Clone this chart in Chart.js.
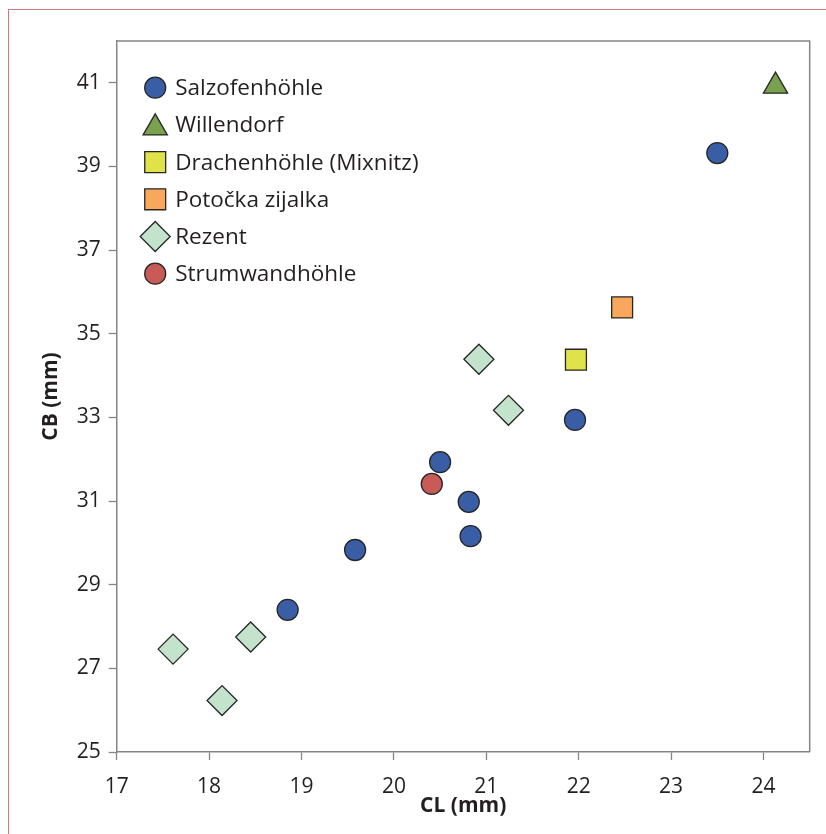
<!DOCTYPE html>
<html>
<head>
<meta charset="utf-8">
<script src="https://cdn.jsdelivr.net/npm/chart.js@4.4.1/dist/chart.umd.min.js"></script>
<style>
  html, body { margin: 0; padding: 0; background: #ffffff; }
  #wrap { position: relative; width: 826px; height: 834px; }
  #frame { position: absolute; left: 8px; top: 9px; right: -10px; bottom: -10px;
           border-left: 1.5px solid #d9767a; border-top: 1.5px solid #d9767a; pointer-events: none; }
</style>
</head>
<body>
<div id="wrap">
  <canvas id="c" width="826" height="834"></canvas>
  <div id="frame"></div>
</div>
<script>
// ---- data ----
const seriesNames = ["Salzofenhöhle", "Willendorf", "Drachenhöhle (Mixnitz)", "Potočka zijalka", "Rezent", "Strumwandhöhle"];

const salzofenX = [23.50, 21.96, 20.50, 20.81, 20.83, 19.58, 18.85];
const salzofenY = [39.32, 32.94, 31.93, 30.98, 30.16, 29.83, 28.40];

const willendorfX = [24.13];
const willendorfY = [40.92];

const drachenX = [21.97];
const drachenY = [34.38];

const potockaX = [22.47];
const potockaY = [35.63];

const rezentX = [20.92, 21.24, 17.61, 18.14, 18.45];
const rezentY = [34.39, 33.17, 27.46, 26.23, 27.75];

const strumX = [20.41];
const strumY = [31.41];

const xTicks = [17, 18, 19, 20, 21, 22, 23, 24];
const yTicks = [25, 27, 29, 31, 33, 35, 37, 39, 41];

const xTitle = "CL (mm)";
const yTitle = "CB (mm)";

// ---- helpers ----
const pts = (xs, ys) => xs.map((x, i) => ({ x: x, y: ys[i] }));
const TEXT = '#231f20';
const AXIS = '#858585';
const BORDER = '#262626';

const styles = [
  { pointStyle: 'circle',   radius: 10.5, bg: '#3a5ea6' },
  { pointStyle: 'triangle', radius: 14,   bg: '#79a24f' },
  { pointStyle: 'rect',     radius: 14.8, bg: '#e0e24a' },
  { pointStyle: 'rect',     radius: 14.8, bg: '#f8a75c' },
  { pointStyle: 'rectRot',  radius: 15,   bg: '#c3e3cc' },
  { pointStyle: 'circle',   radius: 10.5, bg: '#c85b58' }
];
const dataPairs = [
  pts(salzofenX, salzofenY),
  pts(willendorfX, willendorfY),
  pts(drachenX, drachenY),
  pts(potockaX, potockaY),
  pts(rezentX, rezentY),
  pts(strumX, strumY)
];

const datasets = seriesNames.map((name, i) => ({
  label: name,
  data: dataPairs[i],
  pointStyle: styles[i].pointStyle,
  pointRadius: styles[i].radius,
  pointHoverRadius: styles[i].radius,
  backgroundColor: styles[i].bg,
  borderColor: BORDER,
  borderWidth: 1.3,
  showLine: false
}));

// frame (top/right) plugin
const framePlugin = {
  id: 'frame',
  beforeDatasetsDraw(chart) {
    const { ctx, chartArea: a } = chart;
    ctx.save();
    ctx.strokeStyle = AXIS;
    ctx.lineWidth = 1.5;
    ctx.beginPath();
    ctx.moveTo(a.left, a.top);
    ctx.lineTo(a.right, a.top);
    ctx.lineTo(a.right, a.bottom);
    ctx.stroke();
    ctx.restore();
  }
};

// legend inside plot area
const legendPlugin = {
  id: 'innerLegend',
  afterDraw(chart) {
    const { ctx, chartArea: a } = chart;
    const mx = a.left + 38.5;
    const tx = a.left + 58.5;
    const y0 = a.top + 46.7;
    const dy = 37.2;
    ctx.save();
    chart.data.datasets.forEach((ds, i) => {
      const y = y0 + i * dy;
      const r = ds.pointRadius;
      const cy = ds.pointStyle === 'triangle' ? y + 3 : y;
      ctx.fillStyle = ds.backgroundColor;
      ctx.strokeStyle = ds.borderColor;
      ctx.lineWidth = ds.borderWidth;
      Chart.helpers.drawPoint(ctx, { pointStyle: ds.pointStyle, rotation: 0, radius: r, borderWidth: ds.borderWidth }, mx, cy);
      ctx.fillStyle = TEXT;
      ctx.font = '22.5px "Open Sans"';
      ctx.textAlign = 'left';
      ctx.textBaseline = 'middle';
      ctx.fillText(ds.label, tx, y + 1);
    });
    ctx.restore();
  }
};

new Chart(document.getElementById('c'), {
  type: 'scatter',
  data: { datasets: datasets },
  plugins: [framePlugin, legendPlugin],
  options: {
    responsive: false,
    animation: false,
    devicePixelRatio: 1,
    layout: { padding: { left: 0, top: 41, right: 15.3, bottom: 0 } },
    plugins: { legend: { display: false }, tooltip: { enabled: false } },
    scales: {
      x: {
        type: 'linear',
        min: 17, max: 24.5,
        afterBuildTicks: s => { s.ticks = xTicks.map(v => ({ value: v })); },
        afterFit: s => { s.height = 82; },
        grid: { display: true, drawOnChartArea: false, drawTicks: true, tickLength: 8, tickColor: AXIS, tickWidth: 1.3 },
        border: { display: true, color: AXIS, width: 1.5 },
        ticks: { color: TEXT, font: { family: 'Open Sans', size: 21 }, padding: 14, maxRotation: 0 },
        title: { display: true, text: xTitle, color: TEXT, font: { family: 'Open Sans', size: 21, weight: 'bold' }, padding: { top: 0, bottom: 15 } }
      },
      y: {
        type: 'linear',
        min: 25, max: 42,
        afterBuildTicks: s => { s.ticks = yTicks.map(v => ({ value: v })); },
        afterFit: s => { s.width = 116.7; },
        grid: { display: true, drawOnChartArea: false, drawTicks: true, tickLength: 8, tickColor: AXIS, tickWidth: 1.3 },
        border: { display: true, color: AXIS, width: 1.5 },
        ticks: { color: TEXT, font: { family: 'Open Sans', size: 21 }, padding: 8 },
        title: { display: true, text: yTitle, color: TEXT, font: { family: 'Open Sans', size: 21, weight: 'bold' }, padding: { top: 38, bottom: 0 } }
      }
    }
  }
});
</script>
</body>
</html>
